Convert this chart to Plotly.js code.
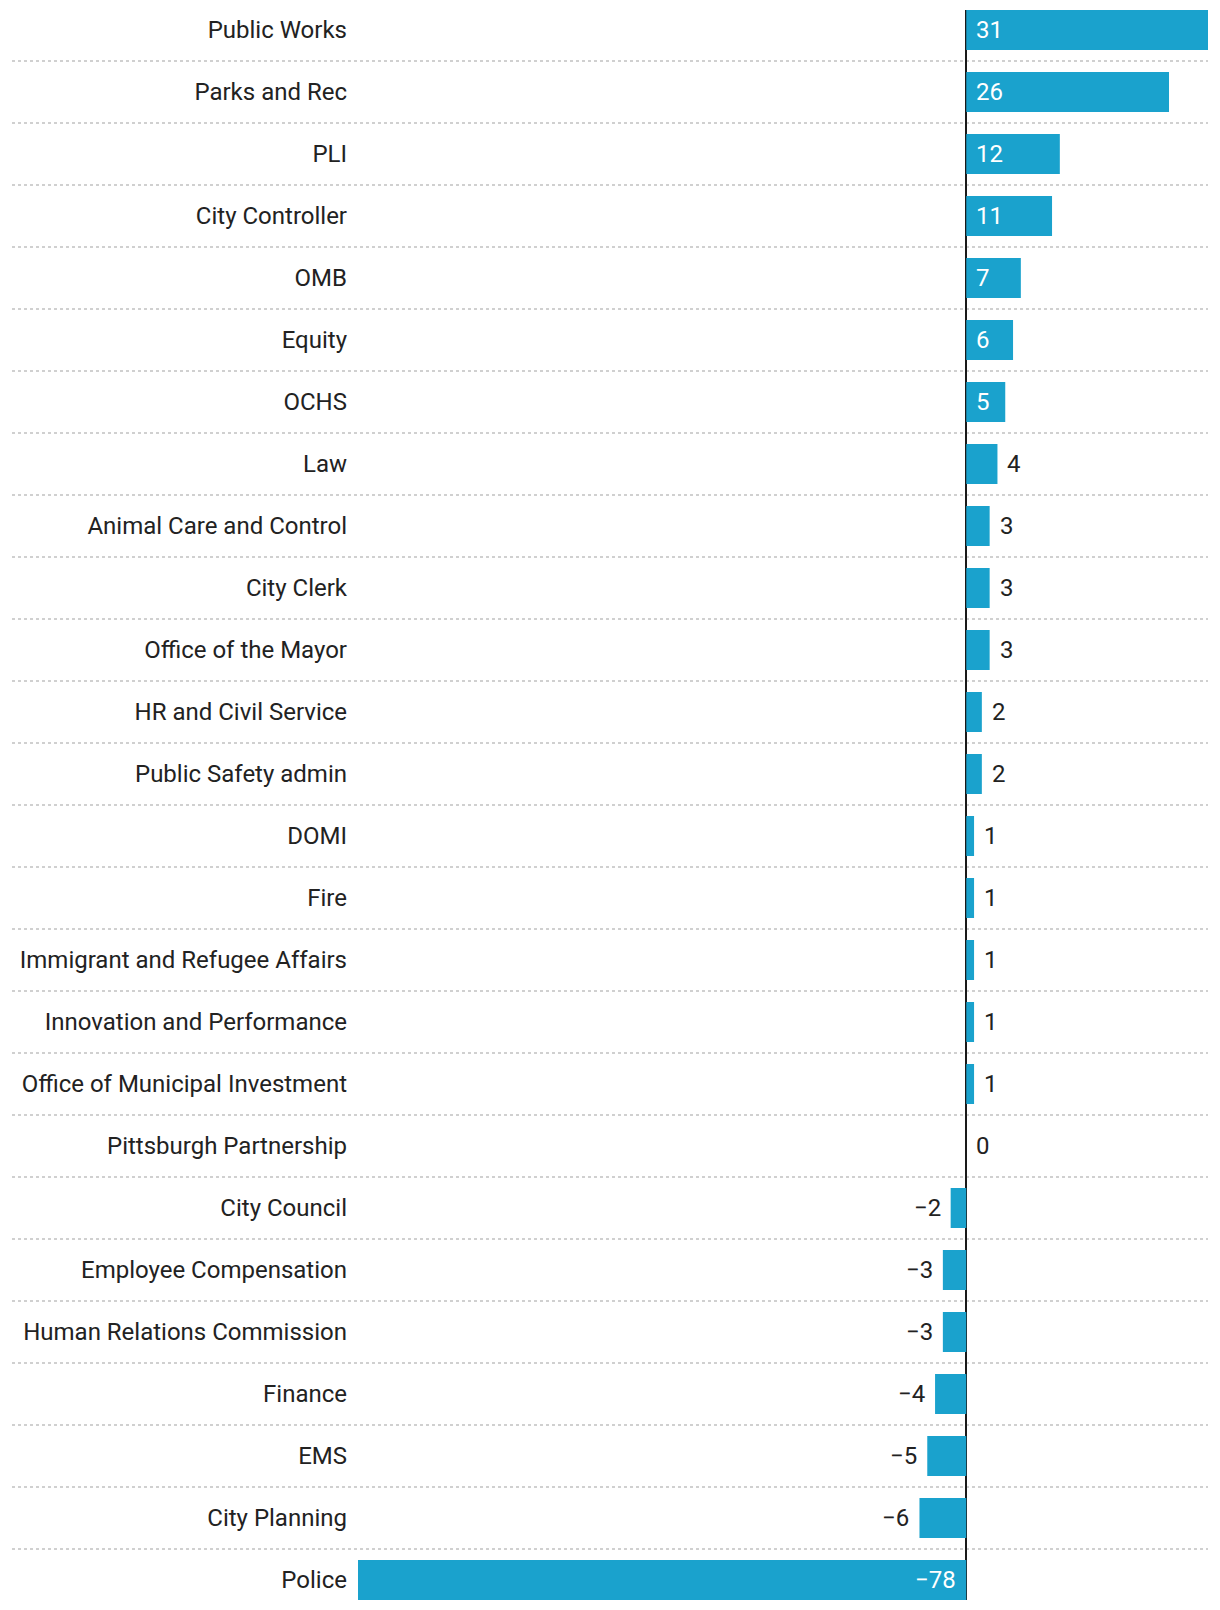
<!DOCTYPE html>
<html>
<head>
<meta charset="utf-8">
<script src="https://cdn.plot.ly/plotly-3.0.1.min.js"></script>
<style>
  html, body { margin: 0; padding: 0; background: #ffffff; }
  #chart { width: 1220px; height: 1610px; }
</style>
</head>
<body>
<div id="chart"></div>
<script>
const departments = [
  "Public Works", "Parks and Rec", "PLI", "City Controller", "OMB", "Equity", "OCHS",
  "Law", "Animal Care and Control", "City Clerk", "Office of the Mayor",
  "HR and Civil Service", "Public Safety admin", "DOMI", "Fire",
  "Immigrant and Refugee Affairs", "Innovation and Performance",
  "Office of Municipal Investment", "Pittsburgh Partnership", "City Council",
  "Employee Compensation", "Human Relations Commission", "Finance", "EMS",
  "City Planning", "Police"
];
const changes = [
  31, 26, 12, 11, 7, 6, 5,
  4, 3, 3, 3,
  2, 2, 1, 1,
  1, 1,
  1, 0, -2,
  -3, -3, -4, -5,
  -6, -78
];

const W = 1220, H = 1610;
const marginL = 358, marginR = 12, marginT = 10, marginB = 10;
const plotW = W - marginL - marginR;
const xMin = -78, xMax = 31;
const pxPerUnit = plotW / (xMax - xMin);
const barColor = "#1aa2cd";
const textColor = "#222222";
const fontFamily = "Roboto, 'Noto Sans', sans-serif";
const fontSize = 24;
const bargap = 0.355;
const n = departments.length;
const labelGap = 8;

function fmt(v) { return v < 0 ? "\u2212" + Math.abs(v) : String(v); }
// a value label sits inside its bar only when it fits there with padding
function fitsInside(v) {
  const textW = fmt(v).length * 0.57 * fontSize;
  return Math.abs(v) * pxPerUnit >= textW + 2 * 12;
}

const trace = {
  type: "bar",
  orientation: "h",
  x: changes,
  y: departments,
  marker: { color: barColor },
  hoverinfo: "none"
};

const annotations = changes.map((v, i) => {
  const inside = v !== 0 && fitsInside(v);
  const neg = v < 0;
  return {
    x: inside ? 0 : v,
    y: departments[i],
    xref: "x", yref: "y",
    text: fmt(v),
    showarrow: false,
    xanchor: neg ? "right" : "left",
    yanchor: "middle",
    xshift: neg ? -labelGap : labelGap,
    font: { family: fontFamily, size: fontSize, color: inside ? "#ffffff" : textColor }
  };
});

const sepX0 = -(marginL - 12) / plotW;
const shapes = [];
for (let k = 0; k < n - 1; k++) {
  shapes.push({
    type: "line", xref: "paper", yref: "y",
    x0: sepX0, x1: 1, y0: k + 0.5, y1: k + 0.5,
    line: { color: "#d0d0d0", width: 2, dash: "dot" },
    layer: "below"
  });
}

const pad = bargap / 2;
const layout = {
  width: W, height: H,
  margin: { l: marginL, r: marginR, t: marginT, b: marginB, pad: 0 },
  paper_bgcolor: "#ffffff",
  plot_bgcolor: "#ffffff",
  showlegend: false,
  bargap: bargap,
  font: { family: fontFamily, size: fontSize, color: textColor },
  xaxis: {
    range: [xMin, xMax],
    showgrid: false,
    showticklabels: false,
    ticks: "",
    zeroline: true,
    zerolinecolor: "#1a1a1a",
    zerolinewidth: 2,
    fixedrange: true
  },
  yaxis: {
    type: "category",
    categoryorder: "array",
    categoryarray: departments,
    range: [n - 0.5 - pad, -0.5 + pad],
    autorange: false,
    showgrid: false,
    zeroline: false,
    ticks: "",
    ticklabelstandoff: 10,
    tickfont: { family: fontFamily, size: fontSize, color: textColor },
    fixedrange: true
  },
  shapes: shapes,
  annotations: annotations,
  hovermode: false
};

Plotly.newPlot("chart", [trace], layout, { displayModeBar: false, staticPlot: true });
</script>
</body>
</html>
